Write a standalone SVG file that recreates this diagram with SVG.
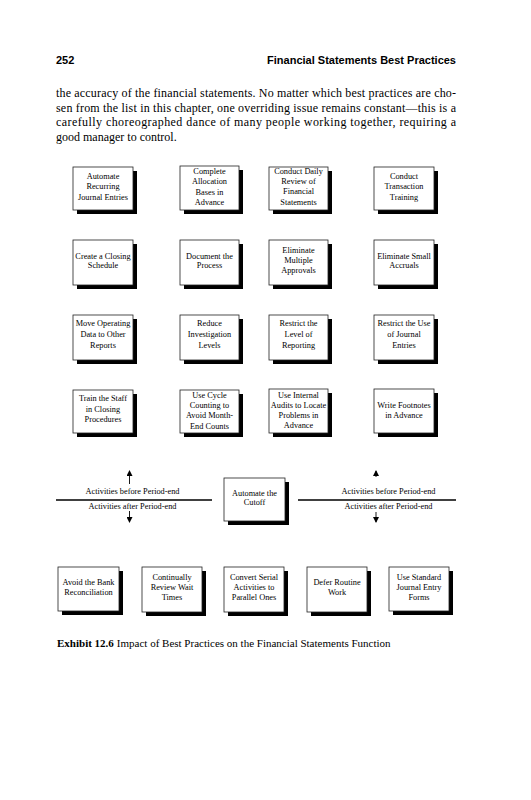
<svg xmlns="http://www.w3.org/2000/svg" width="531" height="800" viewBox="0 0 531 800">
<style>
.hdr{font-family:"Liberation Sans",Arial,sans-serif;font-weight:bold;font-size:11px;fill:#000}
.body{font-family:"Liberation Serif","Times New Roman",serif;font-size:12px;fill:#000}
.bx{fill:#fff;stroke:#222;stroke-width:0.8}
.sh{fill:#000}
.t{font-family:"Liberation Serif","Times New Roman",serif;font-size:8.3px;fill:#000;text-anchor:middle}
.lbl{font-family:"Liberation Serif","Times New Roman",serif;font-size:8.3px;fill:#000;text-anchor:middle}
.cap{font-family:"Liberation Serif","Times New Roman",serif;font-size:11px;fill:#000}
.ln{stroke:#000;stroke-width:1.6}
.ar{stroke:#000;stroke-width:0.9}
</style>
<defs>
<marker id="ah" markerWidth="6" markerHeight="6" refX="5" refY="3" orient="auto" markerUnits="userSpaceOnUse">
<path d="M0,0 L6,3 L0,6 Z" fill="#000"/>
</marker>
</defs>
<rect width="531" height="800" fill="#fff"/>
<text class="hdr" x="56" y="64">252</text>
<text class="hdr" x="456" y="64" text-anchor="end">Financial Statements Best Practices</text>
<text class="body" x="56" y="97" textLength="400" lengthAdjust="spacing">the accuracy of the financial statements. No matter which best practices are cho-</text>
<text class="body" x="56" y="111.7" textLength="400" lengthAdjust="spacing">sen from the list in this chapter, one overriding issue remains constant—this is a</text>
<text class="body" x="56" y="126.4" textLength="400" lengthAdjust="spacing">carefully choreographed dance of many people working together, requiring a</text>
<text class="body" x="56" y="141.1">good manager to control.</text>

<g id="n1"><rect class="sh" x="77" y="171" width="60" height="43"/><rect class="bx" x="73" y="167" width="60" height="43"/>
<text class="t" x="103" y="178.5">Automate</text><text class="t" x="103" y="189">Recurring</text><text class="t" x="103" y="199.5">Journal Entries</text></g>
<g id="n2"><rect class="sh" x="184" y="170" width="59" height="44"/><rect class="bx" x="180" y="166" width="59" height="44"/>
<text class="t" x="209.5" y="173.8">Complete</text><text class="t" x="209.5" y="184.3">Allocation</text><text class="t" x="209.5" y="194.8">Bases in</text><text class="t" x="209.5" y="205.3">Advance</text></g>
<g id="n3"><rect class="sh" x="273" y="171" width="59" height="43"/><rect class="bx" x="269" y="167" width="59" height="43"/>
<text class="t" x="298.5" y="173.8">Conduct Daily</text><text class="t" x="298.5" y="184.1">Review of</text><text class="t" x="298.5" y="194.4">Financial</text><text class="t" x="298.5" y="204.7">Statements</text></g>
<g id="n4"><rect class="sh" x="378" y="171" width="60" height="43"/><rect class="bx" x="374" y="167" width="60" height="43"/>
<text class="t" x="404" y="178.5">Conduct</text><text class="t" x="404" y="189">Transaction</text><text class="t" x="404" y="199.5">Training</text></g>

<g id="n5"><rect class="sh" x="77" y="244" width="60" height="45"/><rect class="bx" x="73" y="240" width="60" height="45"/>
<text class="t" x="103" y="258.7">Create a Closing</text><text class="t" x="103" y="267.7">Schedule</text></g>
<g id="n6"><rect class="sh" x="184" y="244" width="59" height="45"/><rect class="bx" x="180" y="240" width="59" height="45"/>
<text class="t" x="209.5" y="258.7">Document the</text><text class="t" x="209.5" y="267.7">Process</text></g>
<g id="n7"><rect class="sh" x="273" y="244" width="59" height="45"/><rect class="bx" x="269" y="240" width="59" height="45"/>
<text class="t" x="298.5" y="252.7">Eliminate</text><text class="t" x="298.5" y="263">Multiple</text><text class="t" x="298.5" y="273.3">Approvals</text></g>
<g id="n8"><rect class="sh" x="378" y="244" width="60" height="45"/><rect class="bx" x="374" y="240" width="60" height="45"/>
<text class="t" x="404" y="258.7">Eliminate Small</text><text class="t" x="404" y="267.7">Accruals</text></g>

<g id="n9"><rect class="sh" x="77" y="319" width="60" height="45"/><rect class="bx" x="73" y="315" width="60" height="45"/>
<text class="t" x="103" y="326">Move Operating</text><text class="t" x="103" y="337">Data to Other</text><text class="t" x="103" y="347.7">Reports</text></g>
<g id="n10"><rect class="sh" x="184" y="319" width="59" height="45"/><rect class="bx" x="180" y="315" width="59" height="45"/>
<text class="t" x="209.5" y="326">Reduce</text><text class="t" x="209.5" y="337">Investigation</text><text class="t" x="209.5" y="347.7">Levels</text></g>
<g id="n11"><rect class="sh" x="273" y="319" width="59" height="45"/><rect class="bx" x="269" y="315" width="59" height="45"/>
<text class="t" x="298.5" y="326">Restrict the</text><text class="t" x="298.5" y="337">Level of</text><text class="t" x="298.5" y="347.7">Reporting</text></g>
<g id="n12"><rect class="sh" x="378" y="319" width="60" height="45"/><rect class="bx" x="374" y="315" width="60" height="45"/>
<text class="t" x="404" y="326">Restrict the Use</text><text class="t" x="404" y="337">of Journal</text><text class="t" x="404" y="347.7">Entries</text></g>

<g id="n13"><rect class="sh" x="77" y="394" width="60" height="43"/><rect class="bx" x="73" y="390" width="60" height="43"/>
<text class="t" x="103" y="400.7">Train the Staff</text><text class="t" x="103" y="411.5">in Closing</text><text class="t" x="103" y="422">Procedures</text></g>
<g id="n14"><rect class="sh" x="184" y="394" width="59" height="43"/><rect class="bx" x="180" y="390" width="59" height="43"/>
<text class="t" x="209.5" y="397.7">Use Cycle</text><text class="t" x="209.5" y="407.9">Counting to</text><text class="t" x="209.5" y="418.1">Avoid Month-</text><text class="t" x="209.5" y="428.5">End Counts</text></g>
<g id="n15"><rect class="sh" x="273" y="393" width="59" height="44"/><rect class="bx" x="269" y="389" width="59" height="44"/>
<text class="t" x="298.5" y="397.7">Use Internal</text><text class="t" x="298.5" y="407.9">Audits to Locate</text><text class="t" x="298.5" y="418.1">Problems in</text><text class="t" x="298.5" y="428.3">Advance</text></g>
<g id="n16"><rect class="sh" x="378" y="393" width="60" height="44"/><rect class="bx" x="374" y="389" width="60" height="44"/>
<text class="t" x="404" y="407.7">Write Footnotes</text><text class="t" x="404" y="417.7">in Advance</text></g>

<g id="n17"><rect class="sh" x="228" y="482" width="61" height="43"/><rect class="bx" x="224" y="478" width="61" height="43"/>
<text class="t" x="254.5" y="495.7">Automate the</text><text class="t" x="254.5" y="505.3">Cutoff</text></g>

<g id="n18"><rect class="sh" x="62" y="571" width="61" height="44"/><rect class="bx" x="58" y="567" width="61" height="44"/>
<text class="t" x="88.5" y="585.4">Avoid the Bank</text><text class="t" x="88.5" y="595.4">Reconciliation</text></g>
<g id="n19"><rect class="sh" x="146" y="571" width="60" height="45"/><rect class="bx" x="142" y="567" width="60" height="45"/>
<text class="t" x="172" y="579.7">Continually</text><text class="t" x="172" y="589.7">Review Wait</text><text class="t" x="172" y="600.4">Times</text></g>
<g id="n20"><rect class="sh" x="228" y="571" width="60" height="45"/><rect class="bx" x="224" y="567" width="60" height="45"/>
<text class="t" x="254" y="579.7">Convert Serial</text><text class="t" x="254" y="589.7">Activities to</text><text class="t" x="254" y="600.4">Parallel Ones</text></g>
<g id="n21"><rect class="sh" x="311" y="571" width="60" height="45"/><rect class="bx" x="307" y="567" width="60" height="45"/>
<text class="t" x="337" y="585.4">Defer Routine</text><text class="t" x="337" y="595.4">Work</text></g>
<g id="n22"><rect class="sh" x="393" y="571" width="60" height="44"/><rect class="bx" x="389" y="567" width="60" height="44"/>
<text class="t" x="419" y="579.7">Use Standard</text><text class="t" x="419" y="589.7">Journal Entry</text><text class="t" x="419" y="600.4">Forms</text></g>

<g id="connectors">
<line class="ln" x1="56" y1="500" x2="212" y2="500"/>
<line class="ln" x1="298" y1="500" x2="456" y2="500"/>
<line class="ar" x1="129.5" y1="484" x2="129.5" y2="471" marker-end="url(#ah)"/>
<line class="ar" x1="129.5" y1="511" x2="129.5" y2="522" marker-end="url(#ah)"/>
<line class="ar" x1="376" y1="477" x2="376" y2="471" marker-end="url(#ah)"/>
<line class="ar" x1="376" y1="512" x2="376" y2="522" marker-end="url(#ah)"/>
</g>
<text class="lbl" x="132.5" y="494">Activities before Period-end</text>
<text class="lbl" x="132.5" y="509">Activities after Period-end</text>
<text class="lbl" x="388.5" y="494">Activities before Period-end</text>
<text class="lbl" x="388.5" y="509">Activities after Period-end</text>

<text class="cap" x="57" y="647"><tspan font-weight="bold">Exhibit 12.6</tspan><tspan dx="3">Impact of Best Practices on the Financial Statements Function</tspan></text>
</svg>
